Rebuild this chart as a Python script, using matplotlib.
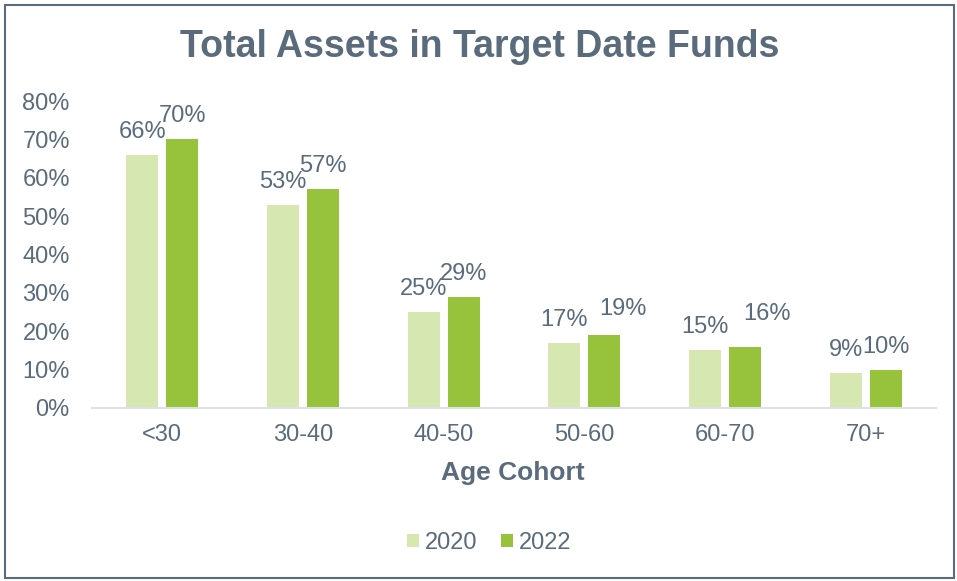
import matplotlib
matplotlib.use("Agg")
import matplotlib.pyplot as plt
import numpy as np
from matplotlib.patches import Rectangle

# ─── Data ─────────────────────────────────────────────
cohorts = ["<30", "30-40", "40-50", "50-60", "60-70", "70+"]
assets_2020 = [66, 53, 25, 17, 15, 9]
assets_2022 = [70, 57, 29, 19, 16, 10]
series_labels = ["2020", "2022"]
y_ticks = [0, 10, 20, 30, 40, 50, 60, 70, 80]

# Excel nudged a couple of 2022 labels sideways / up (pixels)
nudge_2022 = [(0, 0), (0, 0), (0, 0), (19, 3), (22, 10), (0, 0)]

TEXT = "#5a6b7b"
C2020 = "#d6e7b2"
C2022 = "#97c23c"
FS = 17

plt.rcParams["font.family"] = ["Liberation Sans", "DejaVu Sans"]

fig = plt.figure(figsize=(9.57, 5.81), dpi=100)
W, H = 957, 581
ax = fig.add_axes([92 / W, 1 - 408 / H, (936 - 92) / W, (408 - 101) / H])

x = np.arange(len(cohorts))
width = 0.227
off = 0.142
b1 = ax.bar(x - off, assets_2020, width, color=C2020, label=series_labels[0])
b2 = ax.bar(x + off, assets_2022, width, color=C2022, label=series_labels[1])

px = 72 / 100  # pixels -> points
for rect, v in zip(b1, assets_2020):
    ax.annotate(f"{v}%", (rect.get_x() + rect.get_width() / 2, v),
                textcoords="offset points", xytext=(0, 17 * px),
                ha="center", va="baseline", fontsize=FS, color=TEXT)
for rect, v, (dx, dy) in zip(b2, assets_2022, nudge_2022):
    ax.annotate(f"{v}%", (rect.get_x() + rect.get_width() / 2, v),
                textcoords="offset points", xytext=(dx * px, (17 + dy) * px),
                ha="center", va="baseline", fontsize=FS, color=TEXT)

ax.set_xlim(-0.5, len(cohorts) - 0.5)
ax.set_ylim(0, 80)
ax.set_yticks(y_ticks)
ax.set_yticklabels([f"{t}%" for t in y_ticks], fontsize=FS, color=TEXT)
ax.set_xticks(x)
ax.set_xticklabels(cohorts, fontsize=FS, color=TEXT)
ax.tick_params(length=0)
ax.tick_params(axis="x", pad=11.5)
ax.tick_params(axis="y", pad=16)
for s in ["top", "right", "left"]:
    ax.spines[s].set_visible(False)
ax.spines["bottom"].set_color("#dde1e4")
ax.spines["bottom"].set_linewidth(1.5)

fig.text(480 / W, 1 - 47 / H, "Total Assets in Target Date Funds",
         ha="center", va="center", fontsize=27, fontweight="bold", color=TEXT)
fig.text(513 / W, 1 - 473 / H, "Age Cohort", ha="center", va="center",
         fontsize=19, fontweight="bold", color=TEXT)

ax.legend(loc="center", bbox_to_anchor=(489 / W, 1 - 543 / H),
          bbox_transform=fig.transFigure, ncol=2, frameon=False,
          fontsize=FS, labelcolor=TEXT, handlelength=0.5, handleheight=0.5,
          handletextpad=0.25, columnspacing=1.0)

fig.patches.append(Rectangle((5 / W, 3 / H), 949 / W, 1 - 8 / H,
                             transform=fig.transFigure, fill=False,
                             edgecolor=TEXT, linewidth=1.5))

fig.savefig("out.png", dpi=100)
